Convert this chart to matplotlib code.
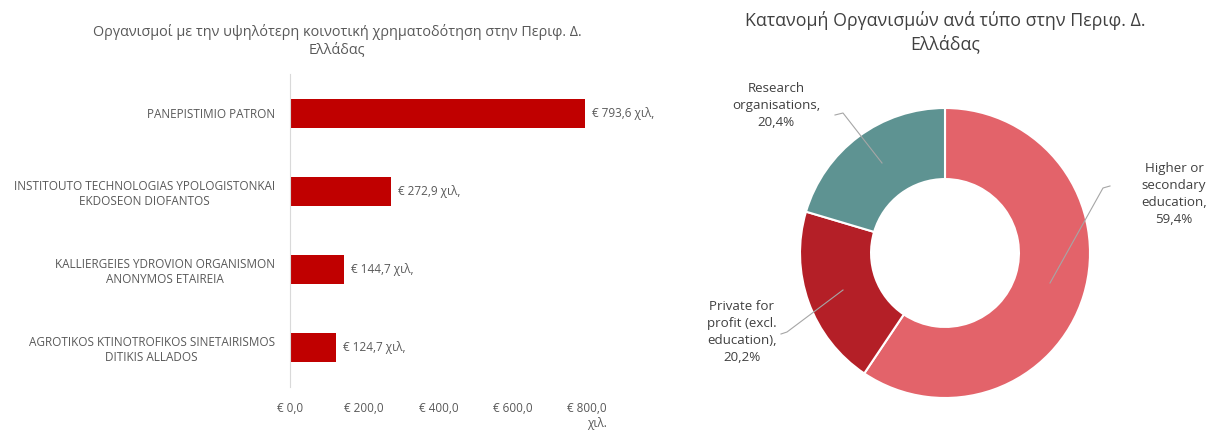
import matplotlib.pyplot as plt

plt.rcParams['font.family'] = ['Open Sans', 'DejaVu Sans']

# ---- data: left bar chart
organisations = ['PANEPISTIMIO PATRON',
                 'INSTITOUTO TECHNOLOGIAS YPOLOGISTONKAI\nEKDOSEON DIOFANTOS',
                 'KALLIERGEIES YDROVION ORGANISMON\nANONYMOS ETAIREIA',
                 'AGROTIKOS KTINOTROFIKOS SINETAIRISMOS\nDITIKIS ALLADOS']
funding = [793.6, 272.9, 144.7, 124.7]
x_ticks = [0, 200, 400, 600, 800]

# ---- data: right donut
org_types = ['Higher or\nsecondary\neducation,', 'Private for\nprofit (excl.\neducation),',
             'Research\norganisations,']
shares = [59.4, 20.2, 20.4]

W, H = 1206, 430
fig = plt.figure(figsize=(W / 100, H / 100), dpi=100)
txt = '#595959'
small = 8.5

def fx(px):
    return px / W

def fy(py):
    return 1 - py / H

# ===== bar chart =====
ax = fig.add_axes([fx(290), fy(387), fx(587) - fx(290), fy(74) - fy(387)])
ypos = list(range(len(organisations)))
ax.barh(ypos, funding, height=0.37, color='#C00000')
ax.set_xlim(0, 800)
ax.set_ylim(3.5, -0.5)
ax.set_yticks(ypos)
ax.set_yticklabels(organisations, fontsize=small, color=txt, multialignment='center', linespacing=1.2)
ax.set_xticks(x_ticks)
ax.set_xticklabels(['€ {:.1f}'.format(v).replace('.', ',') for v in x_ticks], fontsize=small, color=txt)
ax.tick_params(axis='both', length=0)
ax.tick_params(axis='y', pad=11)
ax.tick_params(axis='x', pad=11)
for s in ['top', 'right', 'bottom']:
    ax.spines[s].set_visible(False)
ax.spines['left'].set_color('#D9D9D9')
for y, v in zip(ypos, funding):
    ax.annotate('€ {:.1f} χιλ.'.format(v).replace('.', ','), (v, y), xytext=(5, 0),
                textcoords='offset points', va='center', ha='left', fontsize=small, color=txt)
fig.text(fx(597), fy(423), 'χιλ.', fontsize=small, color=txt, ha='center', va='center')
fig.text(fx(337), fy(41), 'Οργανισμοί με την υψηλότερη κοινοτική χρηματοδότηση στην Περιφ. Δ.\nΕλλάδας',
         fontsize=10.4, color=txt, ha='center', va='center', linespacing=1.2)

# ===== donut =====
R = 145
cx, cy = 945, 253
ax2 = fig.add_axes([fx(645), 0, fx(1206) - fx(645), 1])
ax2.pie(shares, colors=['#E3636A', '#B41F27', '#5E9392'], startangle=90, counterclock=False,
        radius=1, wedgeprops=dict(width=0.49, edgecolor='white', linewidth=1.5))
ax2.set_aspect('auto')
ax2.set_xlim((645 - cx) / R, (1206 - cx) / R)
ax2.set_ylim((cy - H) / R, cy / R)
ax2.axis('off')

def dxy(px, py):
    return ((px - cx) / R, (cy - py) / R)

labels = [t + '\n' + '{:.1f}%'.format(v).replace('.', ',') for t, v in zip(org_types, shares)]
label_pos = [(1174, 194), (742, 332), (776, 105)]
leaders = [[(1110, 186), (1103, 188), (1050, 283)],
           [(781, 334), (787, 332), (843, 290)],
           [(835, 115), (843, 113), (882, 163)]]
for lab, (px, py), pts in zip(labels, label_pos, leaders):
    x, y = dxy(px, py)
    ax2.text(x, y, lab, ha='center', va='center', fontsize=9.6, color='#404040', linespacing=1.4)
    xs, ys = zip(*[dxy(a, b) for a, b in pts])
    ax2.plot(xs, ys, color='#A6A6A6', lw=0.8)

fig.text(fx(945), fy(32), 'Κατανομή Οργανισμών ανά τύπο στην Περιφ. Δ.\nΕλλάδας',
         fontsize=12.8, color='#404040', ha='center', va='center', linespacing=1.3)

fig.savefig('out.png', dpi=100)
